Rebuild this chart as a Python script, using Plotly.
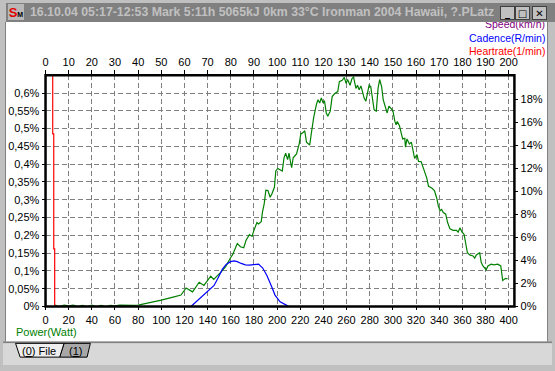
import plotly.graph_objects as go

W, H = 555, 371
def px(x): return x / W
def py(y): return 1 - y / H

# ---------------- data ----------------
power_w = [8, 12, 16, 20, 24, 28, 32, 36, 40, 44, 48, 52, 56, 60, 64, 68, 72, 76, 80,
           83, 91.5, 100, 111, 117, 121.4, 127, 132.7, 136.8, 142.7, 145.3, 151.3, 155.6, 159.8,
           161.8, 165.6, 168.4, 171.2, 173.2, 176.1, 178.4, 179.7, 182.6, 184, 186.3, 187.4,
           188.9, 190.3, 192.1, 194, 195.5, 197.7, 198.9, 200.6, 202.6, 204.5, 206, 207.4,
           209.1, 210.3, 211.7, 212.6, 213.9, 216.8, 219.1, 220.5, 222.5, 223.9, 225.4, 228.2,
           229.7, 231.6, 233.9, 235.3, 236.8, 238.2, 239.6, 241, 242.5, 243.8, 245.9, 247.6,
           249.6, 252.4, 253.8, 256.2, 258.1, 259.6, 260.9, 263, 264.7, 266.1, 268.1, 269.5,
           270.9, 272.4, 273.8, 275.2, 276.7, 278, 279.5, 280.9, 282.3, 283.8, 285.7, 287.2,
           288.6, 290.3, 291.7, 293.8, 295.1, 296.6, 298, 300, 301.7, 302.8, 303.8, 305.7,
           307.4, 308.5, 310.3, 310.9, 312.2, 314.3, 316, 317.1, 318.8, 320.8, 322.2, 324.5,
           326.5, 327.9, 329.3, 330.8, 333.6, 335.9, 337.9, 339.3, 340.8, 342.1, 343.6, 345.6,
           347.3, 349.3, 352.1, 355, 356.4, 357.9, 359.8, 361.5, 362.6, 364.4, 366.4, 369.2,
           370.7, 372.1, 375, 376.3, 377.8, 380.6, 382.1, 384.9, 387.2, 390.6, 393.2, 394.9,
           397.4, 399.1]
power_pct = [0.004, 0, 0.004, 0.002, 0.004, 0, 0.003, 0, 0.004, 0, 0.003, 0, 0.003, 0.002,
             0.004, 0.003, 0.004, 0.003, 0.004,
             0.006, 0.012, 0.018, 0.027, 0.032, 0.052, 0.041, 0.068, 0.059, 0.085, 0.076, 0.096,
             0.112, 0.137, 0.147, 0.177, 0.168, 0.165, 0.186, 0.202, 0.197, 0.211, 0.236, 0.232,
             0.238, 0.266, 0.289, 0.327, 0.326, 0.307, 0.316, 0.335, 0.381, 0.388, 0.385, 0.381,
             0.418, 0.431, 0.413, 0.431, 0.404, 0.390, 0.418, 0.429, 0.457, 0.485, 0.489, 0.494,
             0.462, 0.454, 0.489, 0.531, 0.567, 0.581, 0.572, 0.586, 0.574, 0.577, 0.544, 0.535,
             0.549, 0.590, 0.598, 0.604, 0.632, 0.636, 0.644, 0.627, 0.638, 0.622, 0.641, 0.645,
             0.613, 0.622, 0.609, 0.620, 0.604, 0.586, 0.577, 0.604, 0.622, 0.618, 0.590, 0.553,
             0.549, 0.613, 0.638, 0.618, 0.581, 0.553, 0.544, 0.563, 0.558, 0.551, 0.521, 0.511,
             0.520, 0.508, 0.485, 0.471, 0.473, 0.448, 0.471, 0.457, 0.462, 0.439, 0.416, 0.427,
             0.408, 0.407, 0.388, 0.379, 0.361, 0.338, 0.333, 0.326, 0.305, 0.282, 0.269, 0.273,
             0.264, 0.260, 0.236, 0.218, 0.214, 0.214, 0.209, 0.221, 0.209, 0.203, 0.186, 0.151,
             0.145, 0.142, 0.136, 0.145, 0.151, 0.124, 0.114, 0.103, 0.114, 0.119, 0.117, 0.119,
             0.114, 0.073, 0.079, 0.078]

cad_rpm = [62.8, 65.5, 68.5, 70.5, 72.8, 74.5, 76.4, 78, 79.9, 81.5, 82.8, 84.5, 86.3, 88,
           89.9, 92, 93.8, 95.6, 97.5, 99.1, 101.3, 103, 104.8]
cad_pct = [0, 0.016, 0.032, 0.045, 0.059, 0.08, 0.105, 0.118, 0.126, 0.128, 0.126, 0.121,
           0.117, 0.116, 0.117, 0.119, 0.108, 0.087, 0.058, 0.032, 0.013, 0.006, 0.001]

hr_bpm = [3.1, 3.1, 3.55, 3.55, 3.95, 3.95]
hr_pct = [0.70, 0.485, 0.485, 0.162, 0.162, 0]

left_vals = [0, 0.05, 0.1, 0.15, 0.2, 0.25, 0.3, 0.35, 0.4, 0.45, 0.5, 0.55, 0.6]
left_text = ["0%", "0,05%", "0,1%", "0,15%", "0,2%", "0,25%", "0,3%", "0,35%", "0,4%",
             "0,45%", "0,5%", "0,55%", "0,6%"]
right_vals = [0, 2, 4, 6, 8, 10, 12, 14, 16, 18]
right_text = ["0%", "2%", "4%", "6%", "8%", "10%", "12%", "14%", "16%", "18%"]
bottom_vals = list(range(0, 401, 20))
top_vals = list(range(0, 201, 10))

title_text = "16.10.04 05:17-12:53 Mark 5:11h 5065kJ 0km 33°C Ironman 2004 Hawaii, ?.PLatz"

# ---------------- figure ----------------
FONT = "Liberation Sans, Arial, sans-serif"
fig = go.Figure()
fig.add_trace(go.Scatter(x=power_w, y=power_pct, mode="lines", xaxis="x", yaxis="y",
                         line=dict(color="#008000", width=1.2), hoverinfo="skip"))
fig.add_trace(go.Scatter(x=cad_rpm, y=cad_pct, mode="lines", xaxis="x2", yaxis="y",
                         line=dict(color="#0000ff", width=1.2), hoverinfo="skip"))
fig.add_trace(go.Scatter(x=hr_bpm, y=hr_pct, mode="lines", xaxis="x2", yaxis="y",
                         line=dict(color="#ff0000", width=1.2), hoverinfo="skip"))
fig.add_trace(go.Scatter(x=[0], y=[0], mode="markers", xaxis="x", yaxis="y2",
                         marker=dict(opacity=0), hoverinfo="skip"))

X0, X1, Y0, Y1 = 43, 517, 76.5, 311.5
tickfont = dict(family=FONT, size=11, color="black")
grid = dict(showgrid=True, gridcolor="#808080", gridwidth=1, griddash="5px,3px")

fig.update_layout(
    width=W, height=H, autosize=False,
    margin=dict(l=0, r=0, t=0, b=0),
    paper_bgcolor="#c0c0c0", plot_bgcolor="white",
    showlegend=False, hovermode=False,
    xaxis=dict(domain=[px(X0), px(X1)], range=[0, 405], tickvals=bottom_vals,
               ticks="outside", ticklen=3, tickcolor="black", tickfont=tickfont,
               zeroline=False, showline=False, anchor="y", **grid),
    xaxis2=dict(overlaying="x", side="top", anchor="y", range=[0, 202.5], tickvals=top_vals,
                ticks="outside", ticklen=4, tickcolor="black", tickfont=tickfont,
                showgrid=False, zeroline=False, showline=False),
    yaxis=dict(domain=[py(Y1), py(Y0)], range=[0, 0.65], tickvals=left_vals, ticktext=left_text,
               ticks="outside", ticklen=3, tickcolor="black", tickfont=tickfont,
               zeroline=False, showline=False, anchor="x", **grid),
    yaxis2=dict(overlaying="y", side="right", anchor="x", range=[0, 20.1], tickvals=right_vals,
                ticktext=right_text, ticks="outside", ticklen=3, tickcolor="black",
                tickfont=tickfont, showgrid=False, zeroline=False, showline=False),
)

shapes = []
def rect(x0, y0, x1, y1, fill, line=None, lw=0, layer="below"):
    shapes.append(dict(type="rect", xref="paper", yref="paper", x0=px(x0), x1=px(x1),
                       y0=py(y1), y1=py(y0), fillcolor=fill, layer=layer,
                       line=dict(color=line or fill, width=lw)))
def poly(pts, fill, line="black", lw=1):
    d = "M " + " L ".join(f"{px(a):.5f},{py(b):.5f}" for a, b in pts) + " Z"
    shapes.append(dict(type="path", xref="paper", yref="paper", path=d, fillcolor=fill,
                       line=dict(color=line, width=lw), layer="above"))

rect(3, 22, 550, 347, "white")
rect(2, 22, 3, 347, "#808080")
rect(550, 22, 551, 347, "#808080")
rect(0, 347, W, 349, "#808080")
rect(0, 349, W, 371, "#d8d8d8")
# plot frame
shapes.append(dict(type="rect", xref="paper", yref="paper", x0=px(X0), x1=px(X1),
                   y0=py(Y1), y1=py(Y0), line=dict(color="black", width=2.5),
                   fillcolor="rgba(0,0,0,0)", layer="above"))
# tabs
poly([(61.7, 349), (88.3, 349), (85, 363), (57.3, 363)], "#a8a8a8", "black", 1)
poly([(12.7, 349), (61.7, 349), (57.3, 363), (17.3, 363)], "#eeeeee", "black", 1)
fig.update_layout(shapes=shapes)

ann = []
def text(x, y, s, color="black", size=11, anchor="left", bold=False, **kw):
    ann.append(dict(xref="paper", yref="paper", x=px(x), y=py(y), xanchor=anchor,
                    yanchor="middle", text=f"<b>{s}</b>" if bold else s, showarrow=False,
                    font=dict(family=FONT, size=size, color=color), **kw))

# legend (Speed partly hidden behind title bar)
text(550, 24.5, "Speed(km/h)", "#800080", size=10.5, anchor="right")
text(550, 39, "Cadence(R/min)", "#0000ff", size=10.5, anchor="right")
text(550, 52, "Heartrate(1/min)", "#ff0000", size=10.5, anchor="right")
# title bar
ann.append(dict(xref="paper", yref="paper", x=px(3), y=py(3), xanchor="left", yanchor="top",
                text=" ", showarrow=False, width=549, height=19, bgcolor="#808080",
                borderpad=0, borderwidth=0))
text(25, 12, title_text, "#c0c0c0", size=12.3, bold=True)
# icon
ann.append(dict(xref="paper", yref="paper", x=px(5), y=py(4.5), xanchor="left", yanchor="top",
                text="<b><span style='color:#e00000'>S</span><span style='font-size:7px'>M</span></b>",
                showarrow=False, width=16, height=16, bgcolor="#b8b8b8", borderpad=0, borderwidth=0,
                font=dict(family=FONT, size=13, color="black")))
# buttons
for bx, g in [(502, "_"), (518, "□"), (535, "✕")]:
    ann.append(dict(xref="paper", yref="paper", x=px(bx), y=py(6), xanchor="left", yanchor="top",
                    text=f"<b>{g}</b>", showarrow=False, width=13, height=12, bgcolor="#c0c0c0",
                    bordercolor="#404040", borderwidth=1, borderpad=0,
                    font=dict(family="DejaVu Sans", size=10, color="black")))
# axis caption and tabs text
text(11, 337.5, "Power(Watt)", "#008000")
text(36.7, 356.5, "(<u>0</u>) File", anchor="center")
text(73, 356.5, "(<u>1</u>)", anchor="center")
fig.update_layout(annotations=ann)

fig.write_html("out.html", config={"displayModeBar": False},
               post_script="document.body.style.margin='0';document.body.style.overflow='hidden';")
